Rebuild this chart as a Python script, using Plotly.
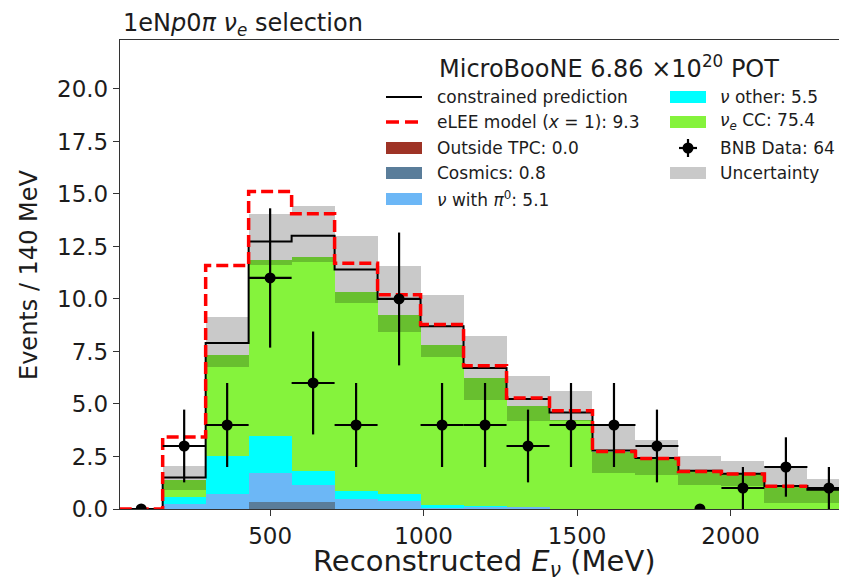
import numpy as np
import plotly.graph_objects as go

# ---------------- data ----------------
bin_edges = [10, 150, 290, 430, 570, 710, 850, 990, 1130, 1270, 1410,
             1550, 1690, 1830, 1970, 2110, 2250, 2390]

outside_tpc = [0, 0, 0, 0, 0, 0, 0, 0, 0, 0, 0, 0, 0, 0, 0, 0, 0]
cosmics     = [0, 0, 0, 0.31, 0.31, 0, 0, 0, 0, 0, 0, 0, 0, 0, 0, 0, 0]
nu_pi0      = [0, 0.25, 0.73, 1.40, 0.85, 0.49, 0.36, 0.06, 0.10, 0.08,
               0, 0, 0, 0, 0, 0, 0]
nu_other    = [0, 0.32, 1.77, 1.75, 0.66, 0.38, 0.37, 0.12, 0.02, 0,
               0, 0, 0, 0, 0, 0, 0]
nue_cc      = [0, 0.83, 4.85, 8.41, 10.18, 9.44, 8.52, 7.64, 6.12, 4.81,
               4.25, 2.70, 2.40, 1.80, 1.68, 1.07, 0.90]

constrained = [0, 1.5, 7.9, 12.74, 13.01, 11.4, 10.0, 8.7, 6.71, 5.24,
               4.6, 2.78, 2.43, 1.82, 1.68, 1.1, 0.92]
unc_low     = [0, 0.92, 6.75, 11.6, 11.75, 9.8, 8.45, 7.25, 5.2, 4.2,
               4.2, 1.7, 1.62, 1.15, 1.1, 0.3, 0.3]
unc_high    = [0, 2.05, 9.12, 14.06, 14.44, 12.98, 11.59, 10.2, 8.25, 6.31,
               5.6, 4.0, 3.3, 2.5, 2.27, 2.03, 1.42]
# eLEE model line (drawn up to 2250 MeV)
elee        = [0, 3.43, 11.59, 15.12, 14.06, 11.7, 10.2, 8.78, 6.82, 5.29,
               4.68, 2.74, 2.41, 1.79, 1.67, 1.08]

bnb_data    = [0, 3, 4, 11, 6, 4, 10, 4, 4, 3, 4, 4, 3, 0, 1, 2, 1]

x_ticks = [500, 1000, 1500, 2000]
y_ticks = [0, 2.5, 5, 7.5, 10, 12.5, 15, 17.5, 20]

legend_col1 = ["constrained prediction",
               "eLEE model (<i>x</i> = 1): 9.3",
               "Outside TPC: 0.0",
               "Cosmics: 0.8",
               "<i>ν</i> with <i>π</i><sup>0</sup>: 5.1"]
legend_col2 = ["<i>ν</i> other: 5.5",
               "<i>ν</i><sub><i>e</i></sub> CC: 75.4",
               "BNB Data: 64",
               "Uncertainty"]

# ---------------- styling ----------------
C_OUT = "#9e3326"
C_COS = "#5a7d9a"
C_PI0 = "#6cb7f6"
C_OTH = "#00ffff"
C_NUE = "#85f33c"
C_UNC = "rgba(0,0,0,0.21)"
C_UNC_LEG = "#c9c9c9"
FONT = "DejaVu Sans"
TXT = "#1c1c1c"

edges = np.array(bin_edges, dtype=float)
centers = 0.5 * (edges[:-1] + edges[1:])
widths = np.diff(edges)

fig = go.Figure()

# stacked MC components
components = [(outside_tpc, C_OUT), (cosmics, C_COS), (nu_pi0, C_PI0),
              (nu_other, C_OTH), (nue_cc, C_NUE)]
base = np.zeros(len(centers))
for vals, col in components:
    v = np.array(vals, dtype=float)
    fig.add_trace(go.Bar(x=centers, y=v, base=base, width=widths,
                         marker=dict(color=col, line=dict(width=0)),
                         showlegend=False, hoverinfo="skip"))
    base = base + v

# uncertainty band
lo = np.array(unc_low, dtype=float)
hi = np.array(unc_high, dtype=float)
fig.add_trace(go.Bar(x=centers, y=hi - lo, base=lo, width=widths,
                     marker=dict(color=C_UNC, line=dict(width=0)),
                     showlegend=False, hoverinfo="skip"))

# constrained prediction step line
fig.add_trace(go.Scatter(x=edges, y=list(constrained) + [constrained[-1]],
                         mode="lines", line=dict(color="black", width=2, shape="hv"),
                         showlegend=False, hoverinfo="skip"))

# eLEE model step line
fig.add_trace(go.Scatter(x=edges[:len(elee) + 1], y=list(elee) + [elee[-1]],
                         mode="lines",
                         line=dict(color="#ff0000", width=3.5, shape="hv", dash="12px,5px"),
                         showlegend=False, hoverinfo="skip"))

# data points
d = np.array(bnb_data, dtype=float)
fig.add_trace(go.Scatter(x=centers, y=d, mode="markers",
                         marker=dict(color="black", size=11),
                         error_y=dict(type="data", array=np.sqrt(d), color="black",
                                      thickness=2.2, width=0),
                         error_x=dict(type="data", array=np.where(d > 0, widths / 2, 0),
                                      color="black", thickness=2.2, width=0),
                         cliponaxis=True,
                         showlegend=False, hoverinfo="skip"))

# ---------------- layout ----------------
# the page body adds an 8 px offset; work in screenshot pixels and shift
OFF = 8
FW, FH = 847 - OFF, 582 - OFF
L, R, T, B = 120, 847, 40, 509          # plot area in screenshot pixels
W, H = R - L, B - T


def px(X):
    return (X - L) / W


def py(Y):
    return (B - Y) / H


fig.update_layout(
    width=FW, height=FH,
    margin=dict(l=L - OFF, r=847 - R, t=T - OFF, b=582 - B),
    paper_bgcolor="white", plot_bgcolor="white",
    barmode="overlay", bargap=0,
    font=dict(family=FONT, color=TXT, size=23),
    showlegend=False,
)
fig.update_xaxes(range=[11, 2379], tickvals=x_ticks, ticks="outside", ticklen=6,
                 tickwidth=1.2, tickcolor="#333", showline=True, linecolor="#333",
                 linewidth=1.3, mirror=True, showgrid=False, zeroline=False,
                 automargin=False,
                 tickfont=dict(size=23, family=FONT, color=TXT))
fig.update_yaxes(range=[0, 22.33], tickvals=y_ticks,
                 ticktext=[f"{v:.1f}" for v in y_ticks], ticks="outside", ticklen=6,
                 tickwidth=1.2, tickcolor="#333", showline=True, linecolor="#333",
                 linewidth=1.3, mirror=True, showgrid=False, zeroline=False,
                 automargin=False,
                 tickfont=dict(size=23, family=FONT, color=TXT))

ann = []
# title
ann.append(dict(text="1eN<i>p</i>0<i>π</i> <i>ν</i><sub><i>e</i></sub> selection",
                x=px(121), y=py(24), xref="paper", yref="paper", xanchor="left",
                yanchor="middle", showarrow=False, font=dict(size=24)))
# axis titles
ann.append(dict(text="Reconstructed <i>E</i><sub><i>ν</i></sub> (MeV)",
                x=px(484), y=py(563), xref="paper", yref="paper", xanchor="center",
                yanchor="middle", showarrow=False, font=dict(size=29)))
ann.append(dict(text="Events / 140 MeV", x=px(29), y=py(275), xref="paper", yref="paper",
                xanchor="center", yanchor="middle", textangle=-90, showarrow=False,
                font=dict(size=24)))
# legend header
ann.append(dict(text="MicroBooNE 6.86 ×10<sup>20</sup> POT", x=px(609), y=py(67),
                xref="paper", yref="paper", xanchor="center", yanchor="middle",
                showarrow=False, font=dict(size=24)))

rows = [97, 122, 148, 173, 199]
shapes = []
c1_sym = (386, 422)
c1_txt = 435
c2_sym = (670, 706)
c2_txt = 718
for i, t in enumerate(legend_col1):
    ann.append(dict(text=t, x=px(c1_txt), y=py(rows[i]), xref="paper", yref="paper",
                    xanchor="left", yanchor="middle", showarrow=False, font=dict(size=17)))
for i, t in enumerate(legend_col2):
    ann.append(dict(text=t, x=px(c2_txt), y=py(rows[i]), xref="paper", yref="paper",
                    xanchor="left", yanchor="middle", showarrow=False, font=dict(size=17)))

# legend symbols, column 1
shapes.append(dict(type="line", xref="paper", yref="paper", x0=px(c1_sym[0]), x1=px(c1_sym[1]),
                   y0=py(rows[0]), y1=py(rows[0]), line=dict(color="black", width=2)))
shapes.append(dict(type="line", xref="paper", yref="paper", x0=px(c1_sym[0]), x1=px(c1_sym[1]),
                   y0=py(rows[1]), y1=py(rows[1]),
                   line=dict(color="#ff0000", width=3.5, dash="13px,6px")))
for r, col in zip(rows[2:5], [C_OUT, C_COS, C_PI0]):
    shapes.append(dict(type="rect", xref="paper", yref="paper", x0=px(c1_sym[0]),
                       x1=px(c1_sym[1]), y0=py(r - 6), y1=py(r + 6),
                       fillcolor=col, line=dict(width=0)))
# legend symbols, column 2
for r, col in zip([rows[0], rows[1], rows[3]], [C_OTH, C_NUE, C_UNC_LEG]):
    shapes.append(dict(type="rect", xref="paper", yref="paper", x0=px(c2_sym[0]),
                       x1=px(c2_sym[1]), y0=py(r - 6), y1=py(r + 6),
                       fillcolor=col, line=dict(width=0)))
cx = 0.5 * (c2_sym[0] + c2_sym[1])
cy = rows[2]
shapes.append(dict(type="line", xref="paper", yref="paper", x0=px(cx - 9), x1=px(cx + 9),
                   y0=py(cy), y1=py(cy), line=dict(color="black", width=2.2)))
shapes.append(dict(type="line", xref="paper", yref="paper", x0=px(cx), x1=px(cx),
                   y0=py(cy - 9), y1=py(cy + 9), line=dict(color="black", width=2.2)))
shapes.append(dict(type="circle", xref="paper", yref="paper", x0=px(cx - 5.5), x1=px(cx + 5.5),
                   y0=py(cy + 5.5), y1=py(cy - 5.5), fillcolor="black", line=dict(width=0)))

fig.update_layout(annotations=ann, shapes=shapes)

fig.write_html("out.html")
